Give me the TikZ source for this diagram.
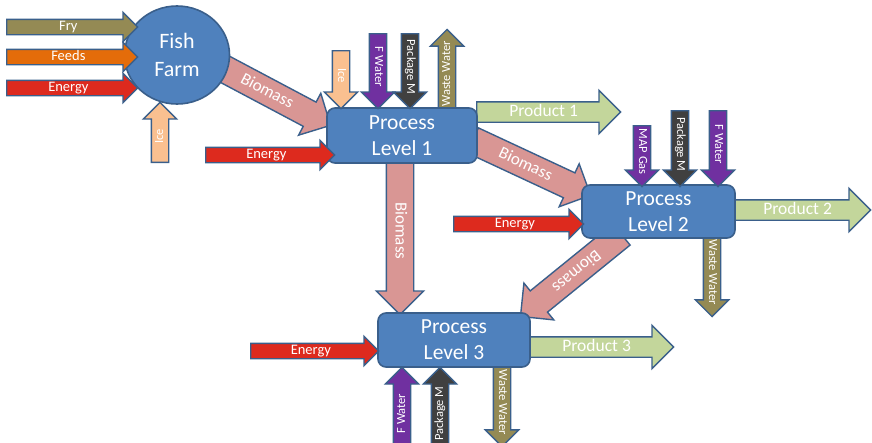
\documentclass[tikz,border=0pt]{standalone}
\usepackage{fontspec}
\setmainfont{Carlito}
\usetikzlibrary{shapes.arrows,shapes.geometric,calc}
\definecolor{edge}{HTML}{3A5F8B}
\definecolor{boxblue}{HTML}{4F81BD}
\definecolor{olive}{HTML}{948A54}
\definecolor{feedorange}{HTML}{E46C0A}
\definecolor{energyred}{HTML}{DD2A1E}
\definecolor{icepeach}{HTML}{FAC090}
\definecolor{biopink}{HTML}{D99694}
\definecolor{wpurple}{HTML}{7030A0}
\definecolor{pkgdark}{HTML}{404040}
\definecolor{prodgreen}{HTML}{C3D69B}
\tikzset{
 arr/.style={single arrow, draw=edge, line width=1.4pt, text=white, inner xsep=2pt, single arrow tip angle=90},
 smallarr/.style={arr, font=\fontsize{14.5}{16}\selectfont, text height=8.5pt, text depth=2pt, inner ysep=1.75pt, single arrow head extend=7pt},
 vertarr/.style={arr, font=\fontsize{12.5}{14}\selectfont, text height=8.5pt, text depth=2.5pt, inner ysep=2.5pt, single arrow head extend=8pt},
 prodarr/.style={arr, font=\fontsize{17.5}{19}\selectfont, text height=12pt, text depth=3pt, inner ysep=2pt, single arrow head extend=11.5pt},
 bioarr/.style={arr, fill=biopink, font=\fontsize{17}{19}\selectfont, text height=12pt, text depth=3pt, inner ysep=5.5pt, single arrow head extend=10pt},
 proc/.style={draw=edge, line width=1.6pt, fill=boxblue, rounded corners=8pt, text=white, align=center, font=\fontsize{21.5}{26}\selectfont},
 farm/.style={ellipse, draw=edge, line width=1.6pt, fill=boxblue, minimum width=105pt, minimum height=98pt, inner sep=0pt, text=white, align=center, font=\fontsize{22}{28}\selectfont},
}
\newcommand\blockarrow[5]{%
 \path let \p1=(#2), \p2=(#3), \n1={atan2(\y2-\y1,\x2-\x1)}, \n2={veclen(\x2-\x1,\y2-\y1)} in
 node[#4, minimum height=\n2, rotate=\n1, anchor=tail] (#1) at (\p1) {#5};}
\begin{document}
\begin{tikzpicture}[x=1pt,y=-1pt]
\useasboundingbox (0,0) rectangle (872,442);
% ---- coordinates
\coordinate (fryT) at (6,27);   \coordinate (fryH) at (137,27);
\coordinate (feedT) at (6,57);  \coordinate (feedH) at (137,57);
\coordinate (enfT) at (6,88);   \coordinate (enfH) at (137,88);
\coordinate (icefT) at (160,163); \coordinate (icefH) at (160,103);
\coordinate (biofT) at (215,64); \coordinate (biofH) at (330,125);
\coordinate (en1T) at (205,155); \coordinate (en1H) at (334,155);
\coordinate (ice1T) at (341,50); \coordinate (ice1H) at (341,108);
\coordinate (fw1T) at (378,33);  \coordinate (fw1H) at (378,108);
\coordinate (pk1T) at (410,33);  \coordinate (pk1H) at (410,108);
\coordinate (ww1T) at (447,110); \coordinate (ww1H) at (447,33);
\coordinate (pr1T) at (476,112); \coordinate (pr1H) at (620,112);
\coordinate (b12T) at (472,140); \coordinate (b12H) at (590,195);
\coordinate (b13T) at (400,160); \coordinate (b13H) at (400,314);
\coordinate (mapT) at (642,125); \coordinate (mapH) at (642,186);
\coordinate (pk2T) at (680,110); \coordinate (pk2H) at (680,186);
\coordinate (fw2T) at (718,110); \coordinate (fw2H) at (718,186);
\coordinate (en2T) at (453,224); \coordinate (en2H) at (583,224);
\coordinate (pr2T) at (734,210); \coordinate (pr2H) at (870,210);
\coordinate (ww2T) at (712,236); \coordinate (ww2H) at (712,312);
\coordinate (b23T) at (622,234); \coordinate (b23H) at (521,316);
\coordinate (en3T) at (250,351); \coordinate (en3H) at (378,351);
\coordinate (pr3T) at (529,347); \coordinate (pr3H) at (673,347);
\coordinate (fw3T) at (402,452); \coordinate (fw3H) at (402,368);
\coordinate (pk3T) at (440,452); \coordinate (pk3H) at (440,368);
\coordinate (ww3T) at (502,366); \coordinate (ww3H) at (502,440);
% ---- fish farm
\blockarrow{biof}{biofT}{biofH}{bioarr}{Biomass}
\node[farm] (ff) at (177,55) {Fish\\Farm};
\blockarrow{fry}{fryT}{fryH}{smallarr, fill=olive}{Fry}
\blockarrow{feeds}{feedT}{feedH}{smallarr, fill=feedorange}{Feeds}
\blockarrow{enf}{enfT}{enfH}{smallarr, fill=energyred}{Energy}
\blockarrow{icef}{icefT}{icefH}{vertarr, fill=icepeach}{Ice}
% ---- process level 1
\blockarrow{pr1}{pr1T}{pr1H}{prodarr, fill=prodgreen}{Product 1}
\blockarrow{ww1}{ww1T}{ww1H}{vertarr, fill=olive}{Waste Water}
\blockarrow{b13}{b13T}{b13H}{bioarr}{Biomass}
\blockarrow{b12}{b12T}{b12H}{bioarr}{Biomass}
\node[proc, minimum width=150pt, minimum height=55pt] (p1) at (402,135.5) {Process\\Level 1};
\blockarrow{en1}{en1T}{en1H}{smallarr, fill=energyred}{Energy}
\blockarrow{ice1}{ice1T}{ice1H}{vertarr, fill=icepeach}{Ice}
\blockarrow{fw1}{fw1T}{fw1H}{vertarr, fill=wpurple}{F Water}
\blockarrow{pk1}{pk1T}{pk1H}{vertarr, fill=pkgdark}{Package M}
% ---- process level 2
\blockarrow{pr2}{pr2T}{pr2H}{prodarr, fill=prodgreen}{Product 2}
\blockarrow{ww2}{ww2T}{ww2H}{vertarr, fill=olive}{Waste Water}
\blockarrow{b23}{b23T}{b23H}{bioarr}{Biomass}
\node[proc, minimum width=153pt, minimum height=53pt] (p2) at (658.5,211.5) {Process\\Level 2};
\blockarrow{en2}{en2T}{en2H}{smallarr, fill=energyred}{Energy}
\blockarrow{map}{mapT}{mapH}{vertarr, fill=wpurple}{MAP Gas}
\blockarrow{pk2}{pk2T}{pk2H}{vertarr, fill=pkgdark}{Package M}
\blockarrow{fw2}{fw2T}{fw2H}{vertarr, fill=wpurple}{F Water}
% ---- process level 3
\blockarrow{pr3}{pr3T}{pr3H}{prodarr, fill=prodgreen}{Product 3}
\blockarrow{ww3}{ww3T}{ww3H}{vertarr, fill=olive}{Waste Water}
\node[proc, minimum width=152pt, minimum height=54pt] (p3) at (454,340) {Process\\Level 3};
\blockarrow{en3}{en3T}{en3H}{smallarr, fill=energyred}{Energy}
\blockarrow{fw3}{fw3T}{fw3H}{vertarr, fill=wpurple}{F Water}
\blockarrow{pk3}{pk3T}{pk3H}{vertarr, fill=pkgdark}{Package M}
\end{tikzpicture}
\end{document}
